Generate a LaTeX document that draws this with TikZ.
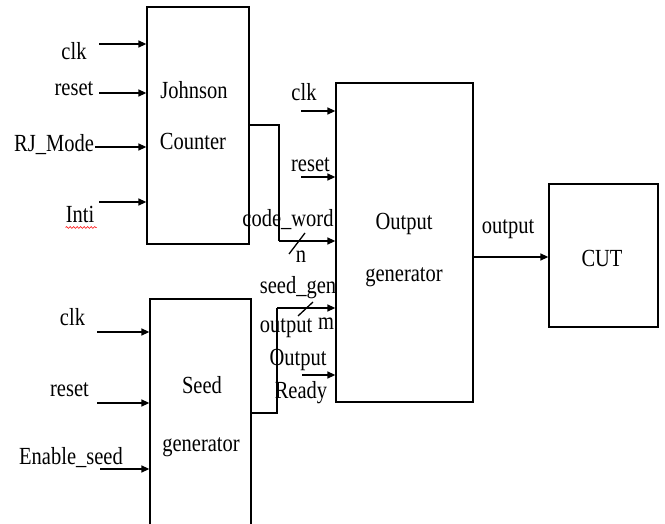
\documentclass[tikz,border=0pt]{standalone}
\usepackage{fontspec}
\setmainfont{Liberation Serif}
\usetikzlibrary{arrows.meta,decorations.pathmorphing}

\tikzset{
  blk/.style={draw, rectangle, line width=1.3pt, inner sep=0pt},
  lbl/.style={font=\fontsize{20.5}{24}\selectfont, yscale=1.2, inner sep=0pt, anchor=base},
  arr/.style={line width=1.3pt, -{Triangle[length=8pt,width=7pt]}},
  wire/.style={line width=1.3pt},
}

\begin{document}
\begin{tikzpicture}[x=1pt, y=-1pt]
    \useasboundingbox (0,0) rectangle (665,524);
    \clip (0,0) rectangle (665,524);

    % Bloques.
    \node[blk, minimum width=102pt, minimum height=237pt] (jc) at (198,125.5) {};
    \node[blk, minimum width=137pt, minimum height=319pt] (og) at (404.5,242.5) {};
    \node[blk, minimum width=101pt, minimum height=241pt] (sg) at (200.5,419.5) {};
    \node[blk, minimum width=109pt, minimum height=143pt] (cut) at (603.5,255.5) {};

    \node[lbl] (jc-t1) at (194,99) {Johnson};
    \node[lbl] (jc-t2) at (193,150) {Counter};
    \node[lbl] (og-t1) at (404,230) {Output};
    \node[lbl] (og-t2) at (404,282) {generator};
    \node[lbl] (sg-t1) at (202,393) {Seed};
    \node[lbl] (sg-t2) at (201,451) {generator};
    \node[lbl] (cut-t) at (602,267) {CUT};

    % Entradas del Johnson Counter.
    \coordinate (jc-clk) at (99,44);
    \coordinate (jc-rst) at (99,93);
    \coordinate (jc-rj) at (95,147);
    \coordinate (jc-in) at (99,202);
    \node[lbl] (jc-clk-l) at (74,60) {clk};
    \node[lbl] (jc-rst-l) at (74,96) {reset};
    \node[lbl] (jc-rj-l) at (54,152) {RJ\_Mode};
    \node[lbl] (jc-in-l) at (80,223) {Inti};
    \draw[red, line width=0.6pt, decorate,
        decoration={snake, amplitude=0.9pt, segment length=3.5pt}]
        (jc-in-l.south west) ++(0,4) -- ++(31,0);
    \draw[arr] (jc-clk) -- (jc-clk -| jc.west);
    \draw[arr] (jc-rst) -- (jc-rst -| jc.west);
    \draw[arr] (jc-rj) -- (jc-rj -| jc.west);
    \draw[arr] (jc-in) -- (jc-in -| jc.west);

    % Entradas del Seed generator.
    \coordinate (sg-clk) at (97,332);
    \coordinate (sg-rst) at (97,403);
    \coordinate (sg-en) at (100,469);
    \node[lbl] (sg-clk-l) at (72.5,325) {clk};
    \node[lbl] (sg-rst-l) at (69.5,396) {reset};
    \node[lbl] (sg-en-l) at (71,464) {Enable\_seed};
    \draw[arr] (sg-clk) -- (sg-clk -| sg.west);
    \draw[arr] (sg-rst) -- (sg-rst -| sg.west);
    \draw[arr] (sg-en) -- (sg-en -| sg.west);

    % Entradas del Output generator.
    \coordinate (og-clk) at (301,111);
    \coordinate (og-rst) at (301,177);
    \coordinate (og-rdy) at (302,375);
    \node[lbl] (og-clk-l) at (304,101) {clk};
    \node[lbl] (og-rst-l) at (310.5,172) {reset};
    \node[lbl] (og-rdy-l1) at (298,366) {Output};
    \node[lbl] (og-rdy-l2) at (301,399) {Ready};
    \draw[arr] (og-clk) -- (og-clk -| og.west);
    \draw[arr] (og-rst) -- (og-rst -| og.west);
    \draw[arr] (og-rdy) -- (og-rdy -| og.west);

    % Bus code_word de n bits.
    \coordinate (cw-a) at (279,125);
    \coordinate (cw-b) at (279,241);
    \draw[wire] (jc.east |- cw-a) -- (cw-a) -- (cw-b);
    \draw[arr] (cw-b) -- (cw-b -| og.west);
    \draw[wire] (289,254) -- (305,233);
    \node[lbl] (cw-l) at (288,227) {code\_word};
    \node[lbl] (cw-n) at (301,263) {n};

    % Bus seed_gen output de m bits.
    \coordinate (sd-a) at (277,413);
    \coordinate (sd-b) at (277,308);
    \draw[wire] (sg.east |- sd-a) -- (sd-a) -- (sd-b);
    \draw[arr] (sd-b) -- (sd-b -| og.west);
    \draw[wire] (298,316) -- (313,302);
    \node[lbl] (sd-l1) at (298,294) {seed\_gen};
    \node[lbl] (sd-l2) at (286,333) {output};
    \node[lbl] (sd-m) at (326,330) {m};

    % Salida hacia el CUT.
    \coordinate (out) at (473,257);
    \draw[arr] (out) -- (out -| cut.west);
    \node[lbl] (out-l) at (508,234) {output};
\end{tikzpicture}
\end{document}
